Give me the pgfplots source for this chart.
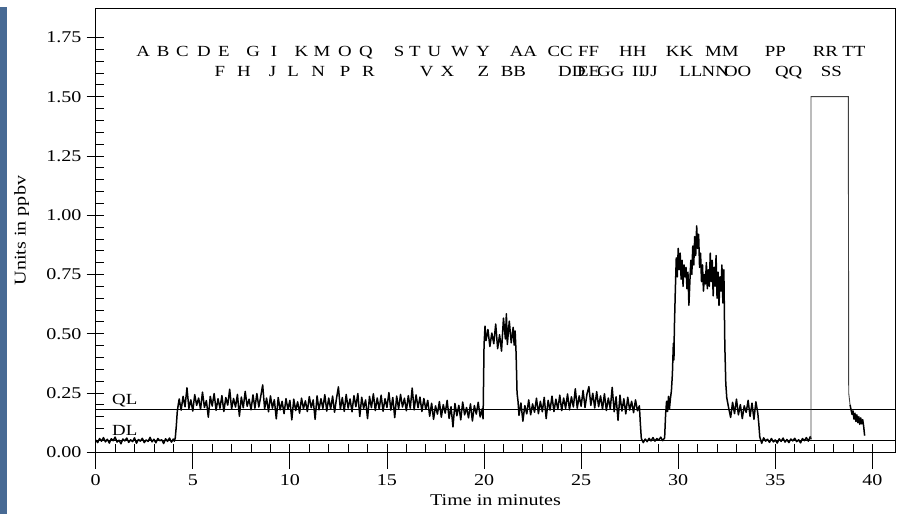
\documentclass[border=0pt]{standalone}
\usepackage{fontspec}
\setmainfont{Liberation Serif}[FakeStretch=1.22]
\usepackage{pgfplots}
\pgfplotsset{compat=1.18}
\definecolor{strip}{RGB}{72,106,148}
\newcommand\lab{\fontsize{16.5}{18}\selectfont}
\newcommand\pk{\fontsize{15.5}{17}\selectfont}

\begin{document}
\begin{tikzpicture}
\useasboundingbox (0bp,0bp) rectangle (904bp,514bp);
\fill[strip] (0bp,0bp) rectangle (7bp,507bp);
\begin{axis}[
 at={(95.7bp,61.7bp)}, anchor=south west,
 scale only axis, width=799.6bp, height=443.6bp,
 xmin=0, xmax=41.18, ymin=0, ymax=1.871,
 axis line style={line width=0.8bp},
 xtick={0,5,...,40}, minor x tick num=4,
 ytick={0,0.25,...,1.75}, minor y tick num=4,
 xtick pos=left, ytick pos=left,
 tick align=inside, major tick length=8.6bp, minor tick length=8.6bp,
 every tick/.style={black, line width=0.8bp},
 extra x ticks={0,5,...,40}, extra x tick labels={},
 extra x tick style={tick align=outside, major tick length=16.3bp},
 extra y ticks={0,0.25,...,1.75}, extra y tick labels={},
 extra y tick style={tick align=outside, major tick length=9bp},
 /pgf/number format/assume math mode=true,
 tick label style={font=\lab},
 xticklabel style={yshift=-19bp},
 yticklabel style={xshift=-10.7bp, /pgf/number format/fixed, /pgf/number format/fixed zerofill, /pgf/number format/precision=2},
 xlabel={Time in minutes},
 xlabel style={font=\lab, at={(axis description cs:0.5,0)}, anchor=center, yshift=-48bp},
 ylabel={Units in ppbv},
 ylabel style={font=\lab, at={(axis description cs:-0.0925,0.5)}, anchor=center},
]

% QL and DL levels
\addplot[black, line width=0.8bp] coordinates {(0,0.18) (41.18,0.18)};
\addplot[black, line width=0.8bp] coordinates {(0,0.05) (41.18,0.05)};

% signal trace, 0 to 36.84 min
\addplot[black, line width=1.5bp, line join=round] coordinates {
(0.0,0.052) (0.1,0.041) (0.2,0.058) (0.3,0.047) (0.4,0.062) (0.5,0.044) (0.6,0.055) (0.7,0.039)
(0.8,0.057) (0.9,0.049) (1.0,0.064) (1.1,0.043) (1.2,0.051) (1.3,0.036) (1.4,0.056) (1.5,0.048)
(1.6,0.060) (1.7,0.042) (1.8,0.053) (1.9,0.045) (2.0,0.061) (2.1,0.038) (2.2,0.054) (2.3,0.047)
(2.4,0.059) (2.5,0.041) (2.6,0.052) (2.7,0.046) (2.8,0.063) (2.9,0.044) (3.0,0.055) (3.1,0.040)
(3.2,0.058) (3.3,0.049) (3.4,0.053) (3.5,0.037) (3.6,0.057) (3.7,0.046) (3.8,0.060) (3.9,0.043)
(4.0,0.056) (4.05,0.047) (4.1,0.062) (4.15,0.110) (4.2,0.170) (4.25,0.200)
(4.3,0.225) (4.4,0.178) (4.5,0.236) (4.6,0.192) (4.7,0.272) (4.8,0.185) (4.9,0.221) (5.0,0.174)
(5.1,0.243) (5.2,0.198) (5.3,0.229) (5.4,0.181) (5.5,0.254) (5.6,0.189) (5.7,0.218) (5.8,0.148)
(5.9,0.236) (6.0,0.195) (6.1,0.248) (6.2,0.177) (6.3,0.226) (6.4,0.186) (6.5,0.239) (6.6,0.172)
(6.7,0.231) (6.8,0.199) (6.9,0.266) (7.0,0.183) (7.1,0.227) (7.2,0.191) (7.3,0.244) (7.4,0.152)
(7.5,0.233) (7.6,0.188) (7.7,0.257) (7.8,0.194) (7.9,0.224) (8.0,0.179) (8.1,0.242) (8.2,0.186)
(8.3,0.248) (8.4,0.191) (8.5,0.236) (8.6,0.284) (8.7,0.183) (8.8,0.229) (8.9,0.171) (9.0,0.238)
(9.1,0.186) (9.2,0.222) (9.3,0.141) (9.4,0.231) (9.5,0.179) (9.6,0.215) (9.7,0.163) (9.8,0.226)
(9.9,0.181) (10.0,0.219) (10.1,0.137) (10.2,0.224) (10.3,0.176) (10.4,0.213) (10.5,0.165) (10.6,0.228)
(10.7,0.184) (10.8,0.217) (10.9,0.172) (11.0,0.235) (11.1,0.188) (11.2,0.221) (11.3,0.139) (11.4,0.238)
(11.5,0.179) (11.6,0.226) (11.7,0.185) (11.8,0.243) (11.9,0.174) (12.0,0.229) (12.1,0.182) (12.2,0.237)
(12.3,0.169) (12.4,0.226) (12.5,0.276) (12.6,0.181) (12.7,0.231) (12.8,0.173) (12.9,0.244) (13.0,0.186)
(13.1,0.225) (13.2,0.171) (13.3,0.239) (13.4,0.192) (13.5,0.248) (13.6,0.151) (13.7,0.232) (13.8,0.185)
(13.9,0.221) (14.0,0.142) (14.1,0.236) (14.2,0.188) (14.3,0.247) (14.4,0.176) (14.5,0.229) (14.6,0.182)
(14.7,0.241) (14.8,0.173) (14.9,0.226) (15.0,0.189) (15.1,0.252) (15.2,0.178) (15.3,0.231) (15.4,0.146)
(15.5,0.237) (15.6,0.183) (15.7,0.244) (15.8,0.191) (15.9,0.228) (16.0,0.175) (16.1,0.239) (16.2,0.186)
(16.3,0.271) (16.4,0.179) (16.5,0.242) (16.6,0.188) (16.7,0.233) (16.8,0.172) (16.9,0.227) (17.0,0.181)
(17.1,0.219) (17.2,0.152) (17.3,0.207) (17.4,0.139) (17.5,0.196) (17.6,0.161) (17.7,0.214) (17.8,0.148)
(17.9,0.201) (18.0,0.165) (18.1,0.219) (18.2,0.143) (18.3,0.192) (18.4,0.107) (18.5,0.206) (18.6,0.154)
(18.7,0.198) (18.8,0.137) (18.9,0.212) (19.0,0.158) (19.1,0.189) (19.2,0.145) (19.3,0.204) (19.4,0.132)
(19.5,0.197) (19.6,0.161) (19.7,0.211) (19.8,0.149) (19.9,0.183) (19.95,0.141)
(20.0,0.452) (20.05,0.532) (20.1,0.471) (20.2,0.518) (20.3,0.446) (20.4,0.503) (20.5,0.458) (20.6,0.541)
(20.7,0.437) (20.8,0.496) (20.9,0.427) (21.0,0.566) (21.1,0.478) (21.15,0.584) (21.2,0.455) (21.3,0.553)
(21.4,0.462) (21.5,0.527) (21.55,0.452) (21.6,0.512) (21.65,0.418) (21.7,0.250) (21.75,0.215) (21.8,0.156)
(21.9,0.208) (22.0,0.131) (22.1,0.197) (22.2,0.162) (22.3,0.221) (22.4,0.158) (22.5,0.204) (22.6,0.169)
(22.7,0.228) (22.8,0.163) (22.9,0.215) (23.0,0.171) (23.1,0.232) (23.2,0.142) (23.3,0.219) (23.4,0.178)
(23.5,0.237) (23.6,0.172) (23.7,0.224) (23.8,0.181) (23.9,0.241) (24.0,0.176) (24.1,0.229) (24.2,0.185)
(24.3,0.246) (24.4,0.179) (24.5,0.234) (24.6,0.191) (24.7,0.268) (24.8,0.186) (24.9,0.238) (25.0,0.194)
(25.1,0.261) (25.2,0.189) (25.3,0.245) (25.4,0.277) (25.5,0.198) (25.6,0.249) (25.7,0.187) (25.8,0.256)
(25.9,0.192) (26.0,0.238) (26.1,0.181) (26.2,0.247) (26.3,0.176) (26.4,0.229) (26.5,0.183) (26.6,0.274)
(26.7,0.171) (26.8,0.234) (26.9,0.135) (27.0,0.241) (27.1,0.174) (27.2,0.226) (27.3,0.162) (27.4,0.232)
(27.5,0.178) (27.6,0.215) (27.7,0.167) (27.8,0.221) (27.9,0.175) (28.0,0.196) (28.05,0.120) (28.1,0.058)
(28.2,0.041) (28.3,0.056) (28.4,0.045) (28.5,0.059) (28.6,0.048) (28.7,0.062) (28.8,0.047) (28.9,0.058)
(29.0,0.051) (29.1,0.064) (29.2,0.049) (29.3,0.061) (29.35,0.160) (29.4,0.215) (29.45,0.172) (29.5,0.236)
(29.55,0.184) (29.6,0.228) (29.65,0.260) (29.7,0.330) (29.75,0.460) (29.78,0.390) (29.8,0.520) (29.85,0.680)
(29.9,0.820) (29.95,0.740) (30.0,0.860) (30.05,0.770) (30.1,0.840) (30.15,0.730) (30.2,0.810) (30.25,0.700)
(30.3,0.790) (30.35,0.740) (30.4,0.780) (30.45,0.690) (30.5,0.760) (30.55,0.620) (30.6,0.720) (30.65,0.810)
(30.7,0.750) (30.75,0.870) (30.8,0.790) (30.85,0.910) (30.9,0.830) (30.95,0.955) (31.0,0.860) (31.05,0.920)
(31.1,0.780) (31.15,0.840) (31.2,0.720) (31.25,0.790) (31.3,0.680) (31.35,0.750) (31.4,0.710) (31.45,0.800)
(31.5,0.690) (31.55,0.770) (31.6,0.700) (31.65,0.840) (31.7,0.720) (31.75,0.810) (31.8,0.660) (31.85,0.780)
(31.9,0.700) (31.95,0.830) (32.0,0.650) (32.05,0.760) (32.1,0.620) (32.15,0.740) (32.2,0.680) (32.25,0.790)
(32.3,0.630) (32.35,0.770) (32.4,0.450) (32.45,0.290) (32.5,0.230)
(32.6,0.186) (32.7,0.147) (32.8,0.211) (32.9,0.163) (33.0,0.224) (33.1,0.158) (33.2,0.201) (33.3,0.142)
(33.4,0.196) (33.5,0.168) (33.6,0.219) (33.7,0.151) (33.8,0.207) (33.9,0.139) (34.0,0.213) (34.1,0.164)
(34.15,0.120) (34.2,0.065) (34.3,0.038) (34.4,0.061) (34.5,0.047) (34.6,0.055) (34.7,0.042) (34.8,0.058)
(34.9,0.044) (35.0,0.052) (35.1,0.039) (35.2,0.057) (35.3,0.046) (35.4,0.060) (35.5,0.043) (35.6,0.054)
(35.7,0.041) (35.8,0.056) (35.9,0.048) (36.0,0.059) (36.1,0.045) (36.2,0.053) (36.3,0.040) (36.4,0.058)
(36.5,0.049) (36.6,0.062) (36.7,0.047) (36.8,0.066) (36.84,0.055)
};
% saturated section
\addplot[black!75, line width=0.9bp] coordinates {
(36.84,0.055) (36.84,1.500) (38.76,1.500) (38.78,0.250) (38.85,0.200)
};
% tail
\addplot[black, line width=1.5bp, line join=round] coordinates {
(38.85,0.200) (38.9,0.180) (38.95,0.160) (39.0,0.175) (39.05,0.140)
(39.1,0.165) (39.15,0.130) (39.2,0.158) (39.25,0.125) (39.3,0.150) (39.35,0.118) (39.4,0.145) (39.45,0.120)
(39.5,0.138) (39.55,0.110) (39.6,0.070)
};

% level labels
\node[anchor=base west, font=\pk, inner sep=0pt] at (axis cs:0.84,0.202) {QL};
\node[anchor=base west, font=\pk, inner sep=0pt] at (axis cs:0.84,0.070) {DL};

% peak names, first row
\node[anchor=base, font=\pk, inner sep=0pt] at (axis cs:2.44,1.668) {A};
\node[anchor=base, font=\pk, inner sep=0pt] at (axis cs:3.47,1.668) {B};
\node[anchor=base, font=\pk, inner sep=0pt] at (axis cs:4.47,1.668) {C};
\node[anchor=base, font=\pk, inner sep=0pt] at (axis cs:5.58,1.668) {D};
\node[anchor=base, font=\pk, inner sep=0pt] at (axis cs:6.60,1.668) {E};
\node[anchor=base, font=\pk, inner sep=0pt] at (axis cs:8.11,1.668) {G};
\node[anchor=base, font=\pk, inner sep=0pt] at (axis cs:9.18,1.668) {I};
\node[anchor=base, font=\pk, inner sep=0pt] at (axis cs:10.60,1.668) {K};
\node[anchor=base, font=\pk, inner sep=0pt] at (axis cs:11.66,1.668) {M};
\node[anchor=base, font=\pk, inner sep=0pt] at (axis cs:12.84,1.668) {O};
\node[anchor=base, font=\pk, inner sep=0pt] at (axis cs:13.92,1.668) {Q};
\node[anchor=base, font=\pk, inner sep=0pt] at (axis cs:15.62,1.668) {S};
\node[anchor=base, font=\pk, inner sep=0pt] at (axis cs:16.44,1.668) {T};
\node[anchor=base, font=\pk, inner sep=0pt] at (axis cs:17.44,1.668) {U};
\node[anchor=base, font=\pk, inner sep=0pt] at (axis cs:18.76,1.668) {W};
\node[anchor=base, font=\pk, inner sep=0pt] at (axis cs:19.96,1.668) {Y};
\node[anchor=base, font=\pk, inner sep=0pt] at (axis cs:22.03,1.668) {AA};
\node[anchor=base, font=\pk, inner sep=0pt] at (axis cs:23.92,1.668) {CC};
\node[anchor=base, font=\pk, inner sep=0pt] at (axis cs:25.38,1.668) {FF};
\node[anchor=base, font=\pk, inner sep=0pt] at (axis cs:27.66,1.668) {HH};
\node[anchor=base, font=\pk, inner sep=0pt] at (axis cs:30.07,1.668) {KK};
\node[anchor=base, font=\pk, inner sep=0pt] at (axis cs:32.25,1.668) {MM};
\node[anchor=base, font=\pk, inner sep=0pt] at (axis cs:35.00,1.668) {PP};
\node[anchor=base, font=\pk, inner sep=0pt] at (axis cs:37.58,1.668) {RR};
\node[anchor=base, font=\pk, inner sep=0pt] at (axis cs:39.04,1.668) {TT};
% second row
\node[anchor=base, font=\pk, inner sep=0pt] at (axis cs:6.39,1.587) {F};
\node[anchor=base, font=\pk, inner sep=0pt] at (axis cs:7.63,1.587) {H};
\node[anchor=base, font=\pk, inner sep=0pt] at (axis cs:9.11,1.587) {J};
\node[anchor=base, font=\pk, inner sep=0pt] at (axis cs:10.17,1.587) {L};
\node[anchor=base, font=\pk, inner sep=0pt] at (axis cs:11.46,1.587) {N};
\node[anchor=base, font=\pk, inner sep=0pt] at (axis cs:12.84,1.587) {P};
\node[anchor=base, font=\pk, inner sep=0pt] at (axis cs:14.04,1.587) {R};
\node[anchor=base, font=\pk, inner sep=0pt] at (axis cs:17.05,1.587) {V};
\node[anchor=base, font=\pk, inner sep=0pt] at (axis cs:18.12,1.587) {X};
\node[anchor=base, font=\pk, inner sep=0pt] at (axis cs:19.96,1.587) {Z};
\node[anchor=base, font=\pk, inner sep=0pt] at (axis cs:21.51,1.587) {BB};
\node[anchor=base, font=\pk, inner sep=0pt] at (axis cs:24.52,1.587) {DD};
\node[anchor=base, font=\pk, inner sep=0pt] at (axis cs:25.38,1.587) {EE};
\node[anchor=base, font=\pk, inner sep=0pt] at (axis cs:26.53,1.587) {GG};
\node[anchor=base, font=\pk, inner sep=0pt] at (axis cs:27.95,1.587) {II};
\node[anchor=base, font=\pk, inner sep=0pt] at (axis cs:28.56,1.587) {JJ};
\node[anchor=base, font=\pk, inner sep=0pt] at (axis cs:30.65,1.587) {LL};
\node[anchor=base, font=\pk, inner sep=0pt] at (axis cs:31.91,1.587) {NN};
\node[anchor=base, font=\pk, inner sep=0pt] at (axis cs:33.06,1.587) {OO};
\node[anchor=base, font=\pk, inner sep=0pt] at (axis cs:35.69,1.587) {QQ};
\node[anchor=base, font=\pk, inner sep=0pt] at (axis cs:37.89,1.587) {SS};
\end{axis}
\end{tikzpicture}
\end{document}
